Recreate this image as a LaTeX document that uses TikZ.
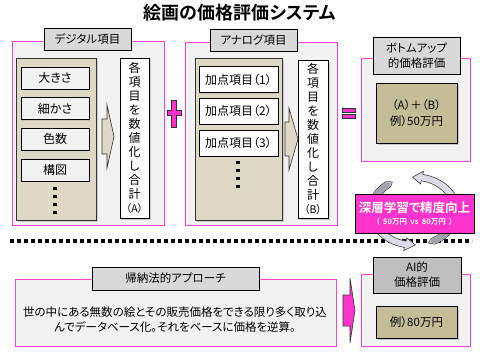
\documentclass[tikz,border=0pt]{standalone}
\usepackage{fontspec}
\setmainfont{Noto Sans CJK JP}[BoldFont={* Bold}, RawFeature=+palt]
\usepackage{tikz}
\usetikzlibrary{positioning, shadows}
\definecolor{rim}{HTML}{FF40D2}
\definecolor{accent}{HTML}{FF33CC}
\definecolor{panelbg}{HTML}{F2F2F2}
\definecolor{tagbg}{HTML}{D9D9D9}
\definecolor{tagdark}{HTML}{BFBFBF}
\definecolor{traybg}{HTML}{DDD9C4}
\definecolor{resultbg}{HTML}{C4BD97}
\definecolor{cyclight}{HTML}{DCDCE8}
\definecolor{cycdark}{HTML}{A2A2AA}

\begin{document}
\begin{tikzpicture}[x=1pt, y=-1pt,
  panel/.style={draw=rim, fill=panelbg, line width=0.9pt, inner sep=0pt},
  tag/.style={draw=black, fill=tagbg, line width=0.7pt, inner sep=0pt, align=center,
    font=\fontsize{11.5}{15}\selectfont},
  tray/.style={draw=black!80, fill=traybg, line width=0.7pt, inner sep=0pt,
    drop shadow={shadow xshift=1.5pt, shadow yshift=-1.5pt, opacity=0.35}},
  item/.style={draw=black, fill=panelbg, line width=0.7pt, inner sep=0pt,
    font=\fontsize{12}{13}\selectfont,
    drop shadow={shadow xshift=1pt, shadow yshift=-1pt, opacity=0.25}},
  vbox/.style={draw=black, fill=white, line width=0.7pt, inner sep=0pt, align=center,
    font=\fontsize{12}{14}\selectfont,
    drop shadow={shadow xshift=1.5pt, shadow yshift=-1.5pt, opacity=0.35}},
  result/.style={draw=black, fill=resultbg, line width=0.7pt, inner sep=0pt, align=center,
    font=\fontsize{11.5}{16}\selectfont,
    drop shadow={shadow xshift=1.5pt, shadow yshift=-1.5pt, opacity=0.35}},
  blockarrow/.style={draw=black!80, line width=0.6pt},
  dotline/.style={line width=3.5pt, dash pattern=on 3.5pt off 4.5pt},
  cyc/.style={draw=black!75, fill=cyclight, line width=0.6pt},
]
\useasboundingbox (0,0) rectangle (480,360);

\node[font=\fontsize{18}{20}\selectfont\bfseries] (title) at (240,13) {絵画の価格評価システム};

% digital items
\node[panel, minimum width=152pt, minimum height=184pt] (digi) at (88,133) {};
\node[tag, minimum width=87pt, minimum height=22pt] (digitag) at (87.5,39) {デジタル項目};
\node[tray, minimum width=80pt, minimum height=162pt] (digitray) at (56,139) {};
\node[item, minimum width=68pt, minimum height=22pt] (d1) at (55,78) {大きさ};
\node[item, minimum width=68pt, minimum height=22pt, below=8pt of d1] (d2) {細かさ};
\node[item, minimum width=68pt, minimum height=22pt, below=8pt of d2] (d3) {色数};
\node[item, minimum width=68pt, minimum height=22pt, below=8pt of d3] (d4) {構図};
\draw[dotline] (55,186.5) -- (55,216);
\filldraw[blockarrow, fill=traybg] (102,119) -- (107,119) -- (107,105) -- (114,136.5)
  -- (107,168) -- (107,154) -- (102,154) -- cycle;
\node[vbox, minimum width=29pt, minimum height=160pt] (sumA) at (134.5,138)
  {各\\項\\目\\を\\数\\値\\化\\し\\合\\計\\{\fontsize{10.5}{12}\selectfont（A）}};

% plus
\filldraw[blockarrow, fill=accent] (171.5,100) -- (176.5,100) -- (176.5,110.5) -- (181,110.5)
  -- (181,115.5) -- (176.5,115.5) -- (176.5,127) -- (171.5,127) -- (171.5,115.5)
  -- (167,115.5) -- (167,110.5) -- (171.5,110.5) -- cycle;

% analog items
\node[panel, minimum width=152pt, minimum height=183pt] (ana) at (261,133.5) {};
\node[tag, minimum width=87pt, minimum height=22pt] (anatag) at (253.5,40) {アナログ項目};
\node[tray, minimum width=87pt, minimum height=162pt] (anatray) at (238.5,139) {};
\node[item, fill=white, minimum width=79pt, minimum height=26pt] (a1) at (238.5,79.5) {加点項目（1）};
\node[item, fill=white, minimum width=79pt, minimum height=26pt, below=5pt of a1] (a2) {加点項目（2）};
\node[item, fill=white, minimum width=79pt, minimum height=26pt, below=5pt of a2] (a3) {加点項目（3）};
\draw[dotline] (238,160.5) -- (238,190);
\filldraw[blockarrow, fill=traybg] (285,122) -- (289,122) -- (289,108) -- (298,139)
  -- (289,170) -- (289,156) -- (285,156) -- cycle;
\node[vbox, minimum width=30pt, minimum height=158pt] (sumB) at (313,139)
  {各\\項\\目\\を\\数\\値\\化\\し\\合\\計\\{\fontsize{10.5}{12}\selectfont（B）}};

% equals
\filldraw[blockarrow, fill=accent] (342,108.5) rectangle (355,112);
\filldraw[blockarrow, fill=accent] (342,114.5) rectangle (355,118);

% bottom-up result
\node[panel, minimum width=109pt, minimum height=103pt] (bottomup) at (415.5,109.5) {};
\node[tag, minimum width=87pt, minimum height=37pt] (bottomtag) at (416.5,55.5) {ボトムアップ\\的価格評価};
\node[result, minimum width=81pt, minimum height=60pt] (bottomres) at (416.5,113) {（A）＋（B）\\例）50万円};

% separator
\draw[line width=3.5pt, dash pattern=on 4pt off 3pt] (10,241) -- (472,241);

% learning cycle
\begin{scope}[shift={(414,211)}, yscale=-0.81]
  \filldraw[cyc] (290:42) -- plot[domain=297:439, samples=40] (\x:46) -- (439:50) -- (452:42)
    -- (439:34) -- plot[domain=439:297, samples=40] (\x:38) -- cycle;
  \fill[cycdark] (293:42) -- plot[domain=298:335, samples=12] (\x:45.4)
    -- plot[domain=335:298, samples=12] (\x:38.6) -- cycle;
  \filldraw[cyc] (121:42) -- plot[domain=128:258, samples=40] (\x:46) -- (258:50) -- (272:42)
    -- (258:34) -- plot[domain=258:128, samples=40] (\x:38) -- cycle;
  \fill[cycdark] (124:42) -- plot[domain=129:160, samples=12] (\x:45.4)
    -- plot[domain=160:129, samples=12] (\x:38.6) -- cycle;
\end{scope}
\node[draw=black, fill=accent, line width=0.7pt, minimum width=119pt, minimum height=39pt,
  inner sep=0pt, align=center, text=white, font=\fontsize{12.5}{13}\selectfont\bfseries]
  (deep) at (414.5,213.5)
  {深層学習で精度向上\\[-1pt]{\fontsize{7.5}{8}\selectfont （\ \ 50万円\ \ vs\ \ 80万円\ \ ）}};

% inductive approach
\node[panel, minimum width=321pt, minimum height=67pt] (induct) at (175.5,312.5) {};
\node[tag, minimum width=167pt, minimum height=23pt] (inducttag) at (175.5,278.5) {帰納法的アプローチ};
\node[align=center, font=\fontsize{11.5}{15}\selectfont] (inducttext) at (175,319.5)
  {世の中にある無数の絵とその販売価格をできる限り多く取り込\\んでデータベース化。それをベースに価格を逆算。};
\filldraw[blockarrow, fill=accent] (343,295) -- (350,295) -- (350,278) -- (355,310.5)
  -- (350,343) -- (350,326) -- (343,326) -- cycle;

% AI result
\node[panel, minimum width=109pt, minimum height=72pt] (ai) at (415.5,310) {};
\node[tag, fill=tagdark, minimum width=88pt, minimum height=36pt] (aitag) at (417,275) {AI的\\価格評価};
\node[result, minimum width=81pt, minimum height=32pt] (aires) at (416.5,322) {例）80万円};
\end{tikzpicture}
\end{document}
